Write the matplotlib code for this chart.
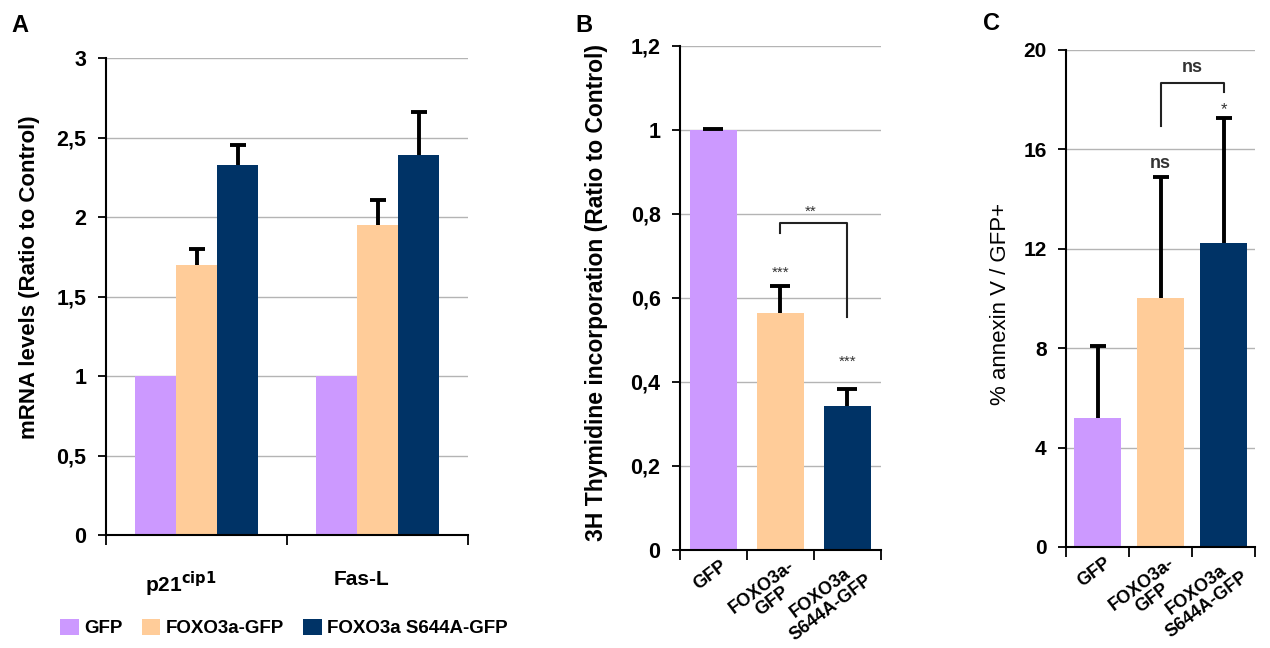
import matplotlib
matplotlib.use("Agg")
import matplotlib.pyplot as plt
from matplotlib.patches import Patch
from matplotlib.transforms import ScaledTranslation
import numpy as np

plt.rcParams['font.family'] = ['Liberation Sans', 'DejaVu Sans']

# ---------------- data ----------------
series_names = ['GFP', 'FOXO3a-GFP', 'FOXO3a S644A-GFP']
colors = ['#CC99FF', '#FFCC99', '#003366']

# Panel A
a_groups = ['p21$^{\\mathbf{cip1}}$', 'Fas-L']
a_gfp = [1.0, 1.0]
a_foxo = [1.70, 1.95]
a_s644 = [2.33, 2.39]
a_err_foxo = [0.10, 0.16]
a_err_s644 = [0.12, 0.27]
a_yticks = [0, 0.5, 1, 1.5, 2, 2.5, 3]
a_yticklabels = ['0', '0,5', '1', '1,5', '2', '2,5', '3']

# Panel B
b_cats = ['GFP', 'FOXO3a-\nGFP', 'FOXO3a\nS644A-GFP']
b_vals = [1.0, 0.565, 0.342]
b_err = [0.002, 0.064, 0.042]
b_yticks = [0, 0.2, 0.4, 0.6, 0.8, 1.0, 1.2]
b_yticklabels = ['0', '0,2', '0,4', '0,6', '0,8', '1', '1,2']

# Panel C
c_cats = ['GFP', 'FOXO3a-\nGFP', 'FOXO3a\nS644A-GFP']
c_vals = [5.2, 10.0, 12.25]
c_err = [2.9, 4.9, 5.0]
c_yticks = [0, 4, 8, 12, 16, 20]
c_yticklabels = ['0', '4', '8', '12', '16', '20']

# ---------------- figure ----------------
fig = plt.figure(figsize=(12.7, 6.48), dpi=100)
axA = fig.add_axes([0.0835, 0.1744, 0.285, 0.736])
axB = fig.add_axes([0.5354, 0.1512, 0.1583, 0.778])
axC = fig.add_axes([0.8394, 0.1559, 0.1488, 0.767])

grid_col = '#B4B4B4'


def style_axis(ax, ylim, yticks, yticklabels, fs, ncat):
    ax.set_ylim(*ylim)
    ax.set_xlim(-0.5, ncat - 0.5)
    ax.set_yticks(yticks)
    ax.set_yticklabels(yticklabels, fontsize=fs, fontweight='bold')
    ax.yaxis.grid(True, color=grid_col, linewidth=1.0)
    ax.set_axisbelow(True)
    for s in ['top', 'right']:
        ax.spines[s].set_visible(False)
    for s in ['left', 'bottom']:
        ax.spines[s].set_linewidth(1.5)
        ax.spines[s].set_color('black')
    ax.tick_params(axis='y', direction='out', length=6, width=1.3, pad=8)
    ax.set_xticks(np.arange(-0.5, ncat, 1.0), minor=True)
    ax.tick_params(axis='x', which='minor', direction='out', length=7, width=1.3)
    ax.tick_params(axis='x', which='major', length=0)


def up_err(ax, xs, ys, errs, capsize):
    eb = ax.errorbar(xs, ys, yerr=[np.zeros(len(ys)), errs], fmt='none', ecolor='black',
                     elinewidth=2.8, capsize=capsize, capthick=2.8, zorder=3)
    # hide the lower caps (only upper error shown)
    eb[1][0].set_visible(False)
    return eb


def rotated_labels(ax, cats):
    ax.set_xticks(np.arange(len(cats)))
    ax.set_xticklabels(cats, fontsize=13, fontweight='bold', rotation=37,
                       ha='right', va='top', rotation_mode='anchor',
                       multialignment='center', linespacing=1.05)
    ax.tick_params(axis='x', which='major', pad=5)
    for lab in ax.get_xticklabels():
        lab.set_transform(lab.get_transform() + ScaledTranslation(0.07, 0, fig.dpi_scale_trans))


# ---- Panel A ----
x = np.arange(len(a_groups))
w = 0.227
axA.bar(x - w, a_gfp, w, color=colors[0], zorder=2)
axA.bar(x, a_foxo, w, color=colors[1], zorder=2)
axA.bar(x + w, a_s644, w, color=colors[2], zorder=2)
up_err(axA, x, a_foxo, a_err_foxo, 6)
up_err(axA, x + w, a_s644, a_err_s644, 6)
style_axis(axA, (0, 3), a_yticks, a_yticklabels, 15.5, 2)
axA.set_xticks(x)
axA.set_xticklabels(a_groups, fontsize=15, fontweight='bold')
axA.tick_params(axis='x', which='major', pad=25)
for lab in axA.get_xticklabels():
    lab.set_transform(lab.get_transform() + ScaledTranslation(-0.16, 0, fig.dpi_scale_trans))
axA.set_ylabel('mRNA levels (Ratio to Control)', fontsize=16, fontweight='bold')
axA.yaxis.set_label_coords(-0.182, 0.54)

handles = [Patch(facecolor=c, edgecolor='none') for c in colors]
fig.legend(handles, series_names, loc='center left', bbox_to_anchor=(0.034, 0.031),
           ncol=3, frameon=False, handlelength=1.0, handleheight=1.0,
           handletextpad=0.3, columnspacing=1.0,
           prop={'size': 13.5, 'weight': 'bold'})

# ---- Panel B ----
xb = np.arange(len(b_cats))
axB.bar(xb, b_vals, 0.70, color=colors, zorder=2)
up_err(axB, xb, b_vals, b_err, 7)
style_axis(axB, (0, 1.2), b_yticks, b_yticklabels, 15.5, 3)
rotated_labels(axB, b_cats)
axB.set_ylabel('3H Thymidine incorporation (Ratio to Control)', fontsize=16.5, fontweight='bold')
axB.yaxis.set_label_coords(-0.36, 0.51)
# significance marks
axB.text(1, 0.66, '***', ha='center', va='center', fontsize=11, color='#333333')
axB.text(2, 0.448, '***', ha='center', va='center', fontsize=11, color='#333333')
axB.plot([1, 1, 2, 2], [0.755, 0.778, 0.778, 0.555], color='#222222', lw=1.5, zorder=3)
axB.text(1.45, 0.805, '**', ha='center', va='center', fontsize=11, color='#333333')

# ---- Panel C ----
xc = np.arange(len(c_cats))
axC.bar(xc, c_vals, 0.75, color=colors, zorder=2)
up_err(axC, xc, c_vals, c_err, 5.5)
style_axis(axC, (0, 20), c_yticks, c_yticklabels, 15, 3)
rotated_labels(axC, c_cats)
axC.set_ylabel('% annexin V / GFP+', fontsize=16)
axC.yaxis.set_label_coords(-0.29, 0.49)
axC.text(1, 15.45, 'ns', ha='center', va='center', fontsize=13, fontweight='bold', color='#333333')
axC.text(2, 17.6, '*', ha='center', va='center', fontsize=12, color='#333333')
axC.plot([1, 1, 2, 2], [16.95, 18.67, 18.67, 18.3], color='#222222', lw=1.5, zorder=3)
axC.text(1.5, 19.3, 'ns', ha='center', va='center', fontsize=13, fontweight='bold', color='#333333')

# panel letters
fig.text(20 / 1270, 1 - 25 / 648, 'A', fontsize=17, fontweight='bold', ha='center', va='center')
fig.text(584 / 1270, 1 - 25 / 648, 'B', fontsize=17, fontweight='bold', ha='center', va='center')
fig.text(991 / 1270, 1 - 24 / 648, 'C', fontsize=17, fontweight='bold', ha='center', va='center')

fig.savefig('out.png', dpi=100)
